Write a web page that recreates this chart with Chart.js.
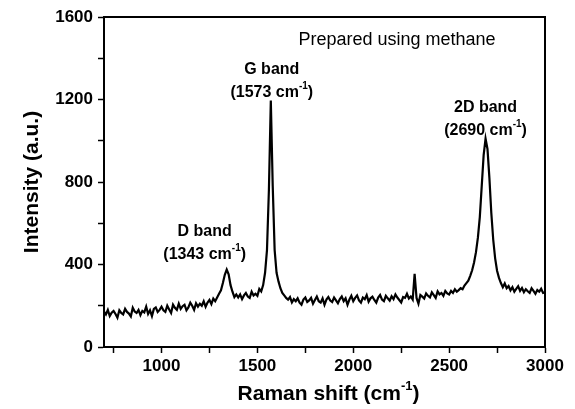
<!DOCTYPE html>
<html>
<head>
<meta charset="utf-8">
<script src="https://cdn.jsdelivr.net/npm/chart.js@4.4.1/dist/chart.umd.min.js"></script>
<style>
  html, body { margin: 0; padding: 0; background: #fff; }
  #wrap { width: 575px; height: 409px; }
</style>
</head>
<body>
<div id="wrap"><canvas id="raman"></canvas></div>
<script>
// Raman spectrum, sampled every 10 cm-1 from 700 to 3000
const shiftStart = 700;
const shiftStep = 10;
const intensity = [
    172,158,180,150,166,175,160,142,178,165, // 700
    158,185,170,162,148,190,172,165,180,155, // 800
    175,168,196,160,178,150,185,192,170,180, // 900
    195,178,170,200,182,165,205,190,180,210, // 1000
    185,198,205,178,192,215,200,180,212,196, // 1100
    210,200,222,195,215,228,208,235,222,240, // 1200
    258,275,310,350,375,352,300,268,242,255, // 1300
    240,255,232,250,262,245,238,268,250,258, // 1400
    248,282,270,300,360,470,760,1195,780,470, // 1500
    360,318,285,262,250,238,230,242,216,232, // 1600
    222,236,215,205,230,240,218,226,238,210, // 1700
    228,245,222,215,236,205,230,242,225,218, // 1800
    240,226,212,232,245,222,236,205,230,248, // 1900
    222,238,250,226,215,240,232,252,220,236, // 2000
    244,228,215,240,252,230,222,248,236,225, // 2100
    246,232,255,240,228,216,242,238,258,235, // 2200
    245,230,355,238,210,252,244,235,260,248, // 2300
    240,265,252,238,270,255,262,248,272,260, // 2400
    255,272,262,280,268,276,285,280,298,310, // 2500
    322,345,372,410,460,530,630,780,930,1010, // 2600
    960,820,650,520,430,370,335,310,290,308, // 2700
    285,296,275,290,268,282,295,272,286,266, // 2800
    280,270,262,285,272,258,276,268,282,262, // 2900
    265                                      // 3000
];

const xTickValues = [750,1000,1250,1500,1750,2000,2250,2500,2750,3000];
const xTickLabels = [1000,1500,2000,2500,3000];
const yTickValues = [0,200,400,600,800,1000,1200,1400,1600];
const yTickLabels = [0,400,800,1200,1600];

const bandNames = ["D band", "G band", "2D band"];
const bandCenters = ["1343", "1573", "2690"];
const sampleNote = "Prepared using methane";

// where the labels sit, in data units
const bandLabelPos = [
    { x: 1225, y1: 560, y2: 450 },
    { x: 1575, y1: 1345, y2: 1235 },
    { x: 2690, y1: 1160, y2: 1050 }
];
const notePos = { x: 2228, y: 1490 };

const points = intensity.map((v, i) => ({ x: shiftStart + i * shiftStep, y: v }));

const FONT = "'Liberation Sans', Arial, sans-serif";

function drawWithSup(ctx, before, sup, after, cx, cy, size) {
    const main = "bold " + size + "px " + FONT;
    const small = "bold " + Math.round(size * 0.6) + "px " + FONT;
    ctx.font = main;
    const w1 = ctx.measureText(before).width;
    const w3 = ctx.measureText(after).width;
    ctx.font = small;
    const w2 = ctx.measureText(sup).width;
    let x = cx - (w1 + w2 + w3) / 2;
    ctx.textAlign = "left";
    ctx.textBaseline = "middle";
    ctx.font = main;
    ctx.fillText(before, x, cy);
    x += w1;
    ctx.font = small;
    ctx.fillText(sup, x, cy - size * 0.38);
    x += w2;
    ctx.font = main;
    ctx.fillText(after, x, cy);
}

const textPlugin = {
    id: "ramanText",
    afterDraw(chart) {
        const ctx = chart.ctx;
        const xs = chart.scales.x;
        const ys = chart.scales.y;
        const area = chart.chartArea;
        ctx.save();
        ctx.fillStyle = "#000";

        // frame top and right
        ctx.strokeStyle = "#000";
        ctx.lineWidth = 2;
        ctx.beginPath();
        ctx.moveTo(area.left, area.top);
        ctx.lineTo(area.right, area.top);
        ctx.lineTo(area.right, area.bottom);
        ctx.stroke();

        bandNames.forEach((name, i) => {
            const p = bandLabelPos[i];
            const cx = xs.getPixelForValue(p.x);
            ctx.font = "bold 16px " + FONT;
            ctx.textAlign = "center";
            ctx.textBaseline = "middle";
            ctx.fillText(name, cx, ys.getPixelForValue(p.y1));
            drawWithSup(ctx, "(" + bandCenters[i] + " cm", "-1", ")", cx, ys.getPixelForValue(p.y2), 16);
        });

        ctx.font = "18px " + FONT;
        ctx.textAlign = "center";
        ctx.textBaseline = "middle";
        ctx.fillText(sampleNote, xs.getPixelForValue(notePos.x), ys.getPixelForValue(notePos.y));

        // axis titles
        drawWithSup(ctx, "Raman shift (cm", "-1", ")", (area.left + area.right) / 2 + 4, 394, 21);

        ctx.translate(32, (area.top + area.bottom) / 2);
        ctx.rotate(-Math.PI / 2);
        ctx.font = "bold 21px " + FONT;
        ctx.textAlign = "center";
        ctx.textBaseline = "middle";
        ctx.fillText("Intensity (a.u.)", 0, 0);
        ctx.restore();
    }
};

const axisGrid = {
    drawOnChartArea: false,
    drawTicks: true,
    tickLength: 6,
    tickWidth: 1.5,
    tickColor: "#000"
};

new Chart(document.getElementById("raman").getContext("2d"), {
    type: "line",
    data: {
        datasets: [{
            data: points,
            borderColor: "#000",
            borderWidth: 2.2,
            pointRadius: 0,
            tension: 0,
            fill: false
        }]
    },
    options: {
        responsive: true,
        maintainAspectRatio: false,
        animation: false,
        layout: { padding: { left: 0, top: 17, right: 30, bottom: 0 } },
        plugins: { legend: { display: false }, tooltip: { enabled: false } },
        scales: {
            x: {
                type: "linear",
                min: 700,
                max: 3000,
                grid: axisGrid,
                border: { color: "#000", width: 2 },
                afterBuildTicks: s => { s.ticks = xTickValues.map(v => ({ value: v })); },
                afterFit: s => { s.height = 62; },
                ticks: {
                    color: "#000",
                    padding: 3,
                    maxRotation: 0,
                    autoSkip: false,
                    font: { family: FONT, size: 17, weight: "bold" },
                    callback: v => xTickLabels.includes(v) ? String(v) : ""
                }
            },
            y: {
                min: 0,
                max: 1600,
                grid: axisGrid,
                border: { color: "#000", width: 2 },
                afterBuildTicks: s => { s.ticks = yTickValues.map(v => ({ value: v })); },
                afterFit: s => { s.width = 104; },
                ticks: {
                    color: "#000",
                    padding: 5,
                    autoSkip: false,
                    font: { family: FONT, size: 17, weight: "bold" },
                    callback: v => yTickLabels.includes(v) ? String(v) : ""
                }
            }
        }
    },
    plugins: [textPlugin]
});
</script>
</body>
</html>
